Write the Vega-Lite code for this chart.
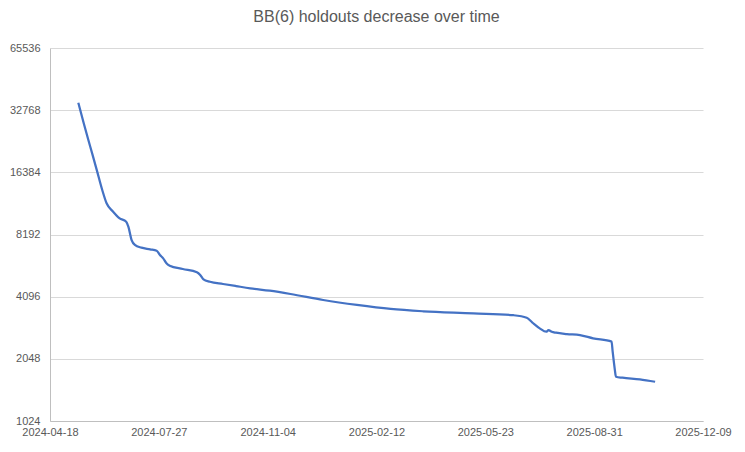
{
  "$schema": "https://vega.github.io/schema/vega-lite/v6.json",
  "autosize": "none",
  "width": 653,
  "height": 373,
  "padding": {"left": 50, "top": 48, "right": 42, "bottom": 31},
  "background": "white",
  "title": {
    "text": "BB(6) holdouts decrease over time",
    "font": "Liberation Sans",
    "fontSize": 16,
    "fontWeight": "normal",
    "color": "#595959",
    "offset": 17,
    "anchor": "middle"
  },
  "config": {
    "view": {"stroke": null},
    "axis": {
      "labelFont": "Liberation Sans",
      "labelFontSize": 11,
      "labelColor": "#595959",
      "gridColor": "#d9d9d9",
      "gridWidth": 1,
      "domainColor": "#bfbfbf",
      "ticks": false,
      "title": null
    }
  },
  "data": {
    "values": [
      {"date": "2024-05-14", "holdouts": 35600},
      {"date": "2024-05-19", "holdouts": 28300},
      {"date": "2024-05-25", "holdouts": 21800},
      {"date": "2024-05-31", "holdouts": 16800},
      {"date": "2024-06-05", "holdouts": 13450},
      {"date": "2024-06-09", "holdouts": 11600},
      {"date": "2024-06-15", "holdouts": 10560},
      {"date": "2024-06-21", "holdouts": 9810},
      {"date": "2024-06-27", "holdouts": 9450},
      {"date": "2024-06-29", "holdouts": 8935},
      {"date": "2024-07-02", "holdouts": 7700},
      {"date": "2024-07-05", "holdouts": 7290},
      {"date": "2024-07-11", "holdouts": 7073},
      {"date": "2024-07-19", "holdouts": 6945},
      {"date": "2024-07-25", "holdouts": 6838},
      {"date": "2024-07-28", "holdouts": 6517},
      {"date": "2024-07-31", "holdouts": 6280},
      {"date": "2024-08-03", "holdouts": 5942},
      {"date": "2024-08-06", "holdouts": 5785},
      {"date": "2024-08-18", "holdouts": 5575},
      {"date": "2024-08-31", "holdouts": 5373},
      {"date": "2024-09-03", "holdouts": 5215},
      {"date": "2024-09-06", "holdouts": 4970},
      {"date": "2024-09-12", "holdouts": 4836},
      {"date": "2024-09-24", "holdouts": 4718},
      {"date": "2024-10-06", "holdouts": 4609},
      {"date": "2024-10-19", "holdouts": 4496},
      {"date": "2024-11-06", "holdouts": 4378},
      {"date": "2024-11-25", "holdouts": 4220},
      {"date": "2024-12-25", "holdouts": 3946},
      {"date": "2025-01-25", "holdouts": 3733},
      {"date": "2025-02-25", "holdouts": 3570},
      {"date": "2025-03-27", "holdouts": 3480},
      {"date": "2025-05-12", "holdouts": 3402},
      {"date": "2025-06-18", "holdouts": 3330},
      {"date": "2025-06-30", "holdouts": 3240},
      {"date": "2025-07-05", "holdouts": 3078},
      {"date": "2025-07-12", "holdouts": 2878},
      {"date": "2025-07-18", "holdouts": 2770},
      {"date": "2025-07-20", "holdouts": 2823},
      {"date": "2025-07-23", "holdouts": 2770},
      {"date": "2025-07-27", "holdouts": 2740},
      {"date": "2025-08-06", "holdouts": 2701},
      {"date": "2025-08-18", "holdouts": 2670},
      {"date": "2025-08-30", "holdouts": 2574},
      {"date": "2025-09-16", "holdouts": 2480},
      {"date": "2025-09-17", "holdouts": 2218},
      {"date": "2025-09-19", "holdouts": 1812},
      {"date": "2025-09-20", "holdouts": 1678},
      {"date": "2025-09-26", "holdouts": 1659},
      {"date": "2025-10-12", "holdouts": 1630},
      {"date": "2025-10-26", "holdouts": 1586}
    ]
  },
  "mark": {"type": "line", "color": "#4472C4", "strokeWidth": 2.25, "interpolate": "monotone"},
  "encoding": {
    "x": {
      "field": "date",
      "type": "temporal",
      "scale": {
        "type": "utc",
        "domain": [
          {"year": 2024, "month": 4, "date": 18, "utc": true},
          {"year": 2025, "month": 12, "date": 9, "utc": true}
        ]
      },
      "axis": {
        "values": [
          {"year": 2024, "month": 4, "date": 18, "utc": true},
          {"year": 2024, "month": 7, "date": 27, "utc": true},
          {"year": 2024, "month": 11, "date": 4, "utc": true},
          {"year": 2025, "month": 2, "date": 12, "utc": true},
          {"year": 2025, "month": 5, "date": 23, "utc": true},
          {"year": 2025, "month": 8, "date": 31, "utc": true},
          {"year": 2025, "month": 12, "date": 9, "utc": true}
        ],
        "format": "%Y-%m-%d",
        "grid": false,
        "labelFlush": false,
        "labelPadding": 5,
        "labelOverlap": false
      }
    },
    "y": {
      "field": "holdouts",
      "type": "quantitative",
      "scale": {"type": "log", "base": 2, "domain": [1024, 65536], "nice": false},
      "axis": {
        "values": [1024, 2048, 4096, 8192, 16384, 32768, 65536],
        "format": "d",
        "grid": true,
        "labelPadding": 10,
        "labelOverlap": false
      }
    }
  }
}
